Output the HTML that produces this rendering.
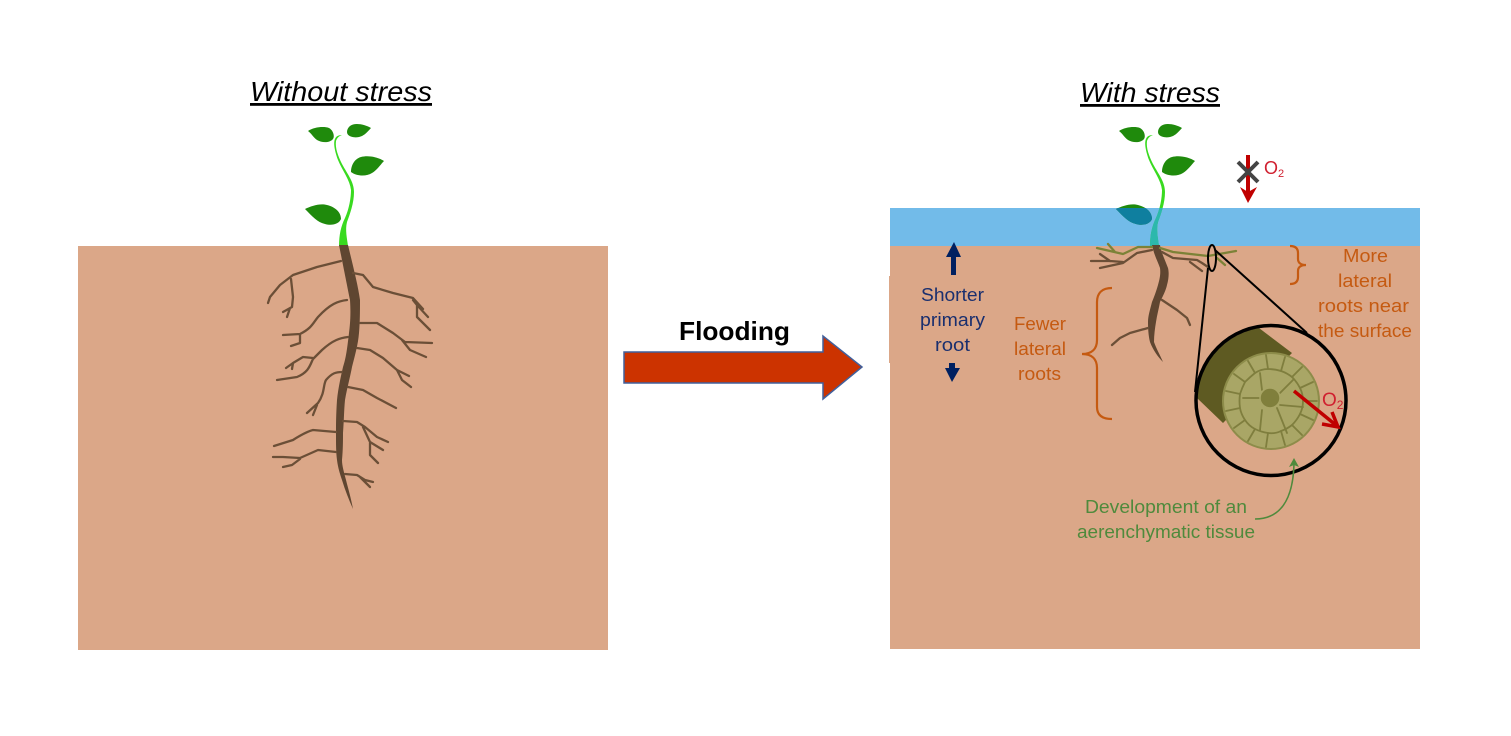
<!DOCTYPE html>
<html lang="en">
<head>
<meta charset="utf-8">
<title>Root responses to flooding</title>
<style>
html,body{margin:0;padding:0;background:#fff;width:1511px;height:736px;overflow:hidden}
svg{display:block}
text{font-family:"Liberation Sans",sans-serif}
.lat{fill:none;stroke:#6b4f37;stroke-width:2.3;stroke-linecap:round;stroke-linejoin:round}
.cell{fill:none;stroke:#7f7e3e;stroke-width:1.8;stroke-linecap:round;stroke-linejoin:round}
</style>
</head>
<body>
<svg xmlns="http://www.w3.org/2000/svg" width="1511" height="736" viewBox="0 0 1511 736">
  <defs>
    <clipPath id="water-clip"><rect x="300" y="208" width="100" height="38"/></clipPath>
    <g id="leaves">
      <path d="M308,131 C314,127 324,126 329,128 C333,130 335,136 333,139 C330,143 322,143 317,140 C313,137 311,133 308,131Z"/>
      <path d="M371,128 C366,125 358,123 353,124.500 C348,126 346,131 347.500,134 C350,138 358,138 362,136 C366,134 369,130 371,128Z"/>
      <path d="M384,161 C378,157 368,155 361,157 C354,159 351,166 351,172 C356,176 366,177 372,173 C377,170 381,164 384,161Z"/>
      <path d="M305,209 C311,206 320,203 327,205 C335,207 341,212 341,219 C339,224 332,226 325,224 C317,222 313,217 305,209Z"/>
    </g>
    <path id="stem" d="M339,246 C339,235 341,226 345,218 C349,209 351,198 351,190 C350,180 342,170 338,160 C335,152 333,143 335,139 C336,136 339,135 342,135 C339,136 337,138 336,141 C335,148 338,156 342,164 C348,175 354,182 354,192 C354,203 350,214 347,222 C345,230 347,238 348,246 Z"/>
  </defs>

  <!-- Left panel -->
  <g>
    <text x="341" y="101" text-anchor="middle" font-size="28" font-style="italic" text-decoration="underline" textLength="182" lengthAdjust="spacingAndGlyphs" fill="#000">Without stress</text>
    <rect x="78" y="246" width="530" height="404" fill="#dba788"/>
    <use href="#stem" fill="#39da20"/>
    <use href="#leaves" fill="#1f8a0c"/>
    <path d="M339,245 C342,260 347,285 350,300 C351,315 350,325 349,333 C347,350 346,358 343,367 C340,380 338,390 337,400 C336,415 336,425 336,433 C336,445 336,452 337,460 C338,468 340,474 342,480 C345,490 349,500 353,509 C351,498 348,488 346,480 C344,472 342,466 342,460 C343,450 343,440 343,433 C344,420 344,410 345,400 C347,388 350,378 352,367 C355,355 358,345 359,333 C360,322 360,310 360,300 C358,285 352,262 348,245 Z" fill="#5f4631"/>
    <g class="lat">
      <path d="M341,261 L317,267 L293,275 L280,285 L270,297 L268,303"/>
      <path d="M291,279 L293,297 L292,307 L283,312 M290,308 L287,317"/>
      <path d="M347,300 C338,301 330,304 318,317 C313,323 312,328 300,334 L283,335 M300,334 L300,343 L291,346"/>
      <path d="M348,337 C340,338 333,340 322,350 L313,359 C310,365 309,372 297,377 L277,380 M313,358 L303,357 L293,363 L286,368 M293,363 L292,369"/>
      <path d="M342,372 C336,372 332,373 326,380 C323,385 325,393 318,403 L307,413 M317,405 L313,415"/>
      <path d="M336,432 L313,430 C305,432 293,440 293,440 L274,446"/>
      <path d="M336,452 L318,450 L300,458 L283,457 L273,457 M300,459 L292,465 L283,467"/>
      <path d="M353,273 L363,275 L373,287 L393,293 L413,298 L423,309 M413,300 L417,305 L428,317 M417,305 L417,317 L430,330"/>
      <path d="M360,323 L377,323 L393,333 L405,342 L432,343 M402,340 L410,350 L426,357"/>
      <path d="M357,348 L370,350 L383,358 L397,370 L409,376 M397,370 L402,380 L411,387"/>
      <path d="M348,387 L363,390 L377,398 L396,408"/>
      <path d="M343,421 L357,422 L365,427 L377,437 L388,442 M363,427 L370,442 L383,450 M370,443 L370,455 L378,463"/>
      <path d="M345,474 L357,475 L365,480 L373,482 M360,477 L370,487"/>
    </g>
  </g>

  <!-- Flooding arrow -->
  <g>
    <text x="734.5" y="340" text-anchor="middle" font-size="26" font-weight="bold" textLength="111" lengthAdjust="spacingAndGlyphs" fill="#000">Flooding</text>
    <polygon points="624,352 823,352 823,336 862,367 823,399 823,383 624,383" fill="#cc3300" stroke="#41609c" stroke-width="1.5"/>
  </g>

  <!-- Right panel -->
  <g>
    <text x="1150" y="102" text-anchor="middle" font-size="28" font-style="italic" text-decoration="underline" textLength="140" lengthAdjust="spacingAndGlyphs" fill="#000">With stress</text>
    <rect x="890" y="246" width="530" height="403" fill="#dba788"/>
    <rect x="889" y="276" width="1" height="87" fill="#dba788"/>
    <rect x="890" y="208" width="530" height="38" fill="#72bbe9"/>

    <g transform="translate(811,0)">
      <use href="#stem" fill="#39da20"/>
      <use href="#leaves" fill="#1f8a0c"/>
      <g clip-path="url(#water-clip)">
        <use href="#leaves" fill="#0f7f9f"/>
        <use href="#stem" fill="#2cb8ac"/>
      </g>
    </g>

    <path d="M1152,245 C1154,255 1158,262 1160,268 C1161,275 1159,281 1158,285 C1156,292 1154,297 1152,302 C1150,310 1148,316 1148,322 C1148,332 1149,338 1150,342 C1153,350 1158,357 1163,362 C1160,355 1156,348 1154,342 C1154,335 1155,328 1156,322 C1157,315 1159,308 1160,302 C1163,296 1166,290 1167,285 C1169,278 1169,272 1168,268 C1165,260 1161,252 1160,245 Z" fill="#5f4631"/>
    <g class="lat">
      <path d="M1148,328 L1130,333 L1120,338 L1112,345"/>
      <path d="M1162,300 L1177,310 L1187,318 L1190,325"/>
      <path d="M1152,250 L1137,253 L1123,263 L1100,268 M1123,262 L1110,261 L1091,261 M1110,261 L1100,254"/>
      <path d="M1162,252 L1173,258 L1197,260 L1202,263 L1208,267 M1190,262 L1202,271"/>
    </g>
    <g fill="none" stroke="#7c8237" stroke-width="2.3" stroke-linecap="round" stroke-linejoin="round">
      <path d="M1152,247 L1138,247 L1123,254 L1097,248 M1115,252 L1108,244"/>
      <path d="M1160,248 L1173,252 L1208,256 L1236,251 M1217,258 L1225,265"/>
    </g>

    <!-- Magnifier -->
    <g>
      <ellipse cx="1212" cy="258" rx="4" ry="13" fill="none" stroke="#000" stroke-width="2"/>
      <path d="M1208,268 L1195,392 M1215,250 L1307,333" fill="none" stroke="#000" stroke-width="2"/>
      <path d="M1292,353 L1259,328 A75,75 0 0 0 1197,398 L1223,423 Z" fill="#5e5a22"/>
      <circle cx="1271" cy="400.500" r="75" fill="none" stroke="#000" stroke-width="3.5"/>
      <circle cx="1271" cy="401" r="48" fill="#a9a666" stroke="#8d8c4a" stroke-width="2"/>
      <g class="cell">
        <path d="M1303,401 L1317,401 M1300,414 L1313,420 M1292,425 L1302,435 M1281,431 L1285,445 M1268,433 L1266,447 M1255,429 L1248,441 M1245,420 L1234,428 M1240,408 L1226,411 M1240,394 L1226,391 M1245,382 L1234,374 M1255,373 L1248,361 M1268,369 L1266,355 M1281,371 L1285,357 M1292,377 L1302,367 M1300,388 L1313,382"/>
        <path d="M1303,401 Q1303,408 1300,414 Q1297,420 1292,425 Q1287,429 1281,431 Q1275,434 1268,433 Q1261,432 1255,429 Q1249,426 1245,420 Q1241,414 1240,408 Q1239,401 1240,394 Q1242,388 1245,382 Q1250,377 1255,373 Q1261,369 1268,369 Q1275,369 1281,371 Q1287,373 1292,377 Q1297,382 1300,388 Q1303,394 1303,401 Z"/>
        <path d="M1280,393 L1293,380 M1280,405 L1303,407 M1277,408 L1287,433 M1262,410 L1260,430 M1260,398 L1243,398 M1262,390 L1260,373"/>
      </g>
      <circle cx="1270" cy="398" r="10" fill="#807f3c" stroke="#a9a666" stroke-width="1.500"/>
    </g>

    <!-- O2 escaping -->
    <g>
      <path d="M1294,391 L1337,426" fill="none" stroke="#c00000" stroke-width="3.5"/>
      <path d="M1322,424 L1338,427 L1332,412" fill="none" stroke="#c00000" stroke-width="3.5" stroke-linejoin="miter"/>
      <text x="1322" y="406" font-size="19" fill="#d02030">O<tspan font-size="12" dy="3">2</tspan></text>
    </g>

    <!-- blocked O2 -->
    <g>
      <path d="M1248,155 L1248,192" stroke="#c00000" stroke-width="4" fill="none"/>
      <path d="M1240,187 L1248,192 L1257,187 L1248,203 Z" fill="#c00000"/>
      <path d="M1238,162 L1258,182 M1258,162 L1238,182" stroke="#444" stroke-width="4" fill="none"/>
      <text x="1264" y="174" font-size="18" fill="#d02030">O<tspan font-size="11" dy="3">2</tspan></text>
    </g>

    <!-- shorter primary root -->
    <g>
      <polygon points="954,242 961,257 956,257 956,275 951,275 951,257 946,257" fill="#002060"/>
      <polygon points="952,382 960,368 955,368 955,363 949,363 949,368 945,368" fill="#002060"/>
      <g font-size="18" fill="#1a2f6e">
        <text x="921" y="301" textLength="63" lengthAdjust="spacingAndGlyphs">Shorter</text>
        <text x="920" y="326" textLength="65" lengthAdjust="spacingAndGlyphs">primary</text>
        <text x="935" y="351" textLength="35" lengthAdjust="spacingAndGlyphs">root</text>
      </g>
    </g>

    <!-- fewer lateral roots -->
    <g>
      <g font-size="18" fill="#c55a11">
        <text x="1014" y="330" textLength="52" lengthAdjust="spacingAndGlyphs">Fewer</text>
        <text x="1014" y="355" textLength="52" lengthAdjust="spacingAndGlyphs">lateral</text>
        <text x="1018" y="380" textLength="43" lengthAdjust="spacingAndGlyphs">roots</text>
      </g>
      <path d="M1112,288 C1102,288 1097,293 1097,302 L1097,340 C1097,349 1092,354 1082,354 C1092,354 1097,359 1097,368 L1097,407 C1097,415 1102,419 1112,419" fill="none" stroke="#c55a11" stroke-width="2.2"/>
    </g>

    <!-- more lateral roots -->
    <g>
      <g font-size="18" fill="#c55a11">
        <text x="1343" y="262" textLength="45" lengthAdjust="spacingAndGlyphs">More</text>
        <text x="1338" y="287" textLength="54" lengthAdjust="spacingAndGlyphs">lateral</text>
        <text x="1318" y="312" textLength="91" lengthAdjust="spacingAndGlyphs">roots near</text>
        <text x="1318" y="337" textLength="94" lengthAdjust="spacingAndGlyphs">the surface</text>
      </g>
      <path d="M1290,246 C1296,246 1298,249 1298,253 L1298,259 C1298,263 1301,265 1306,265 C1301,265 1298,267 1298,271 L1298,277 C1298,281 1296,284 1290,284" fill="none" stroke="#c55a11" stroke-width="2.2"/>
    </g>

    <!-- aerenchyma -->
    <g>
      <g font-size="18" fill="#4f8a3c">
        <text x="1085" y="513" textLength="162" lengthAdjust="spacingAndGlyphs">Development of an</text>
        <text x="1077" y="538" textLength="178" lengthAdjust="spacingAndGlyphs">aerenchymatic tissue</text>
      </g>
      <path d="M1255,519 C1280,519 1293,500 1294,464" fill="none" stroke="#4f8a3c" stroke-width="1.6"/>
      <polygon points="1294,458 1299,467 1294,465 1289,467" fill="#4f8a3c"/>
    </g>
  </g>
</svg>
</body>
</html>
